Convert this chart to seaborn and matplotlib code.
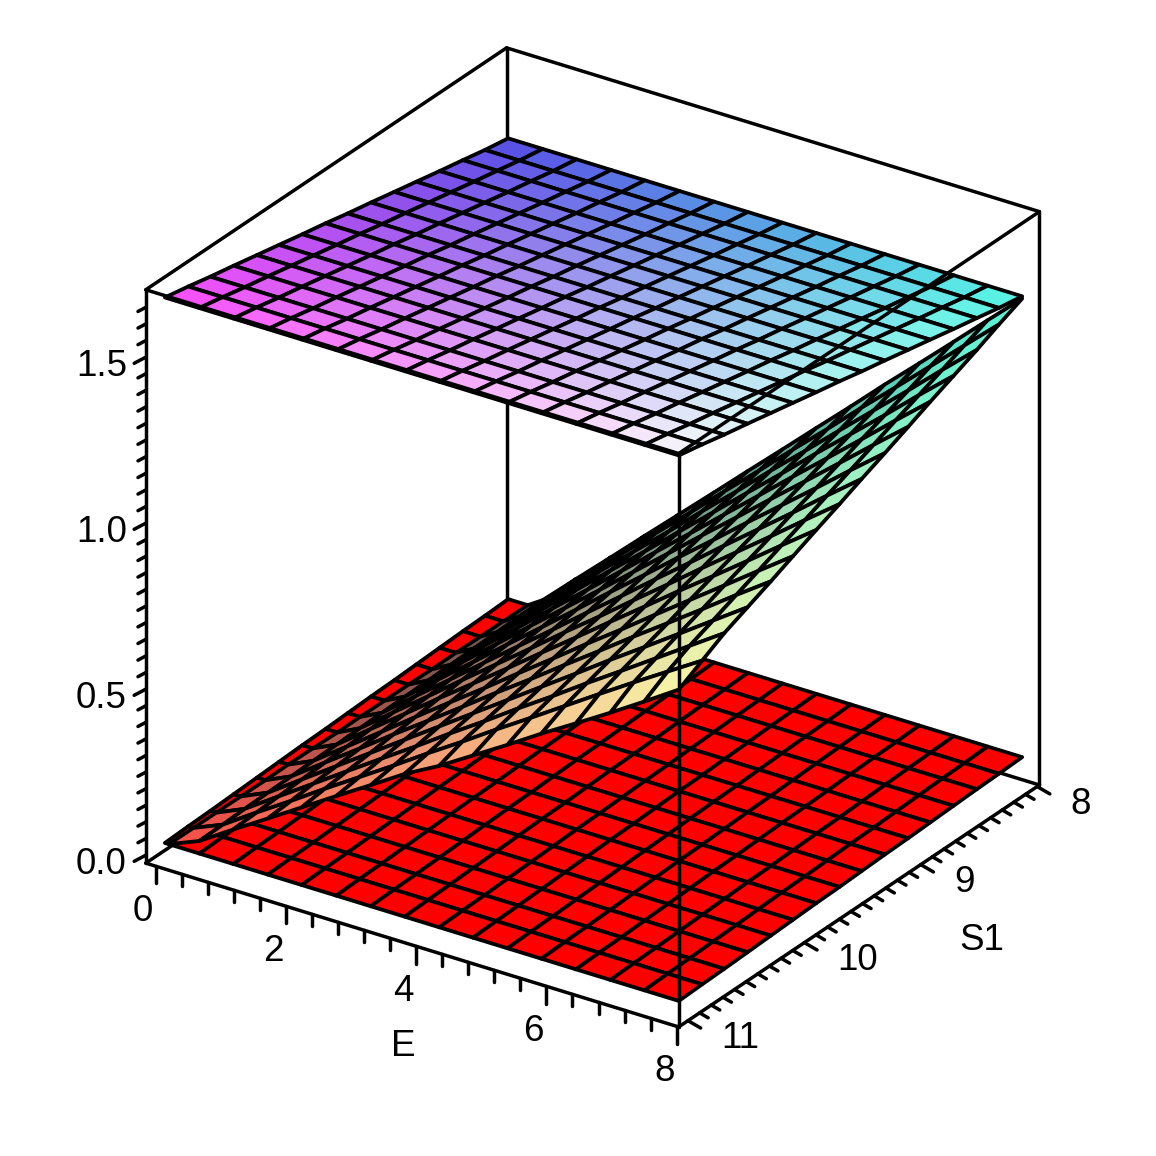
import numpy as np
import seaborn as sns
import matplotlib
matplotlib.use("Agg")
import matplotlib.pyplot as plt
from mpl_toolkits.mplot3d import proj3d

sns.set_style("white")
plt.rcParams['font.family'] = ['Liberation Sans', 'DejaVu Sans']

# grid of the surfaces
e_vals = [0.0, 0.53, 1.05, 1.58, 2.10, 2.63, 3.16, 3.68, 4.21, 4.73, 5.26, 5.78, 6.31, 6.84, 7.36, 7.89]
s_vals = [11.0, 10.8, 10.61, 10.41, 10.21, 10.02, 9.82, 9.62, 9.43, 9.23, 9.03, 8.84, 8.64, 8.44, 8.25, 8.05]

# the two flat sheets only change along S1
bottom_z = [0.027, 0.030, 0.032, 0.035, 0.038, 0.041, 0.044, 0.046, 0.049, 0.052, 0.054, 0.057, 0.060, 0.063, 0.065, 0.068]
top_z = [1.670, 1.656, 1.641, 1.627, 1.612, 1.598, 1.583, 1.569, 1.554, 1.540, 1.525, 1.511, 1.496, 1.482, 1.468, 1.456]

# where the ramp comes out of the red sheet
mid_first_e = [0.06, 0.08, 0.09, 0.11, 0.13, 0.14, 0.16, 0.18, 0.19, 0.21, 0.22, 0.24, 0.25, 0.27, 0.28, 0.30]
mid_z = [
    [0.027, 0.065, 0.131, 0.196, 0.261, 0.327, 0.392, 0.457, 0.513, 0.576, 0.640, 0.705, 0.768, 0.832, 0.897, 0.965],
    [0.030, 0.067, 0.135, 0.202, 0.270, 0.337, 0.404, 0.472, 0.539, 0.607, 0.674, 0.741, 0.809, 0.876, 0.940, 1.005],
    [0.032, 0.070, 0.139, 0.209, 0.278, 0.348, 0.417, 0.487, 0.556, 0.626, 0.695, 0.765, 0.834, 0.904, 0.973, 1.043],
    [0.035, 0.072, 0.143, 0.215, 0.286, 0.358, 0.430, 0.501, 0.573, 0.644, 0.716, 0.788, 0.859, 0.931, 1.002, 1.074],
    [0.038, 0.074, 0.147, 0.221, 0.295, 0.368, 0.442, 0.516, 0.589, 0.663, 0.737, 0.811, 0.884, 0.958, 1.032, 1.105],
    [0.041, 0.076, 0.151, 0.227, 0.303, 0.379, 0.454, 0.530, 0.606, 0.682, 0.757, 0.833, 0.909, 0.985, 1.060, 1.136],
    [0.044, 0.078, 0.156, 0.234, 0.312, 0.389, 0.467, 0.545, 0.623, 0.701, 0.779, 0.857, 0.934, 1.012, 1.090, 1.168],
    [0.046, 0.080, 0.160, 0.240, 0.320, 0.400, 0.480, 0.560, 0.639, 0.719, 0.799, 0.879, 0.959, 1.039, 1.119, 1.199],
    [0.049, 0.082, 0.164, 0.246, 0.328, 0.410, 0.492, 0.574, 0.656, 0.738, 0.820, 0.902, 0.984, 1.066, 1.148, 1.230],
    [0.052, 0.084, 0.168, 0.252, 0.336, 0.420, 0.505, 0.589, 0.673, 0.757, 0.841, 0.925, 1.009, 1.093, 1.177, 1.261],
    [0.054, 0.086, 0.172, 0.259, 0.345, 0.431, 0.517, 0.603, 0.690, 0.776, 0.862, 0.948, 1.034, 1.121, 1.207, 1.293],
    [0.057, 0.088, 0.177, 0.265, 0.353, 0.441, 0.530, 0.618, 0.706, 0.794, 0.883, 0.971, 1.059, 1.148, 1.236, 1.324],
    [0.060, 0.090, 0.181, 0.271, 0.361, 0.452, 0.542, 0.632, 0.723, 0.813, 0.903, 0.994, 1.084, 1.174, 1.265, 1.355],
    [0.063, 0.092, 0.185, 0.277, 0.370, 0.462, 0.554, 0.647, 0.739, 0.832, 0.924, 1.016, 1.109, 1.201, 1.294, 1.386],
    [0.065, 0.095, 0.189, 0.284, 0.378, 0.473, 0.567, 0.662, 0.756, 0.851, 0.945, 1.040, 1.134, 1.229, 1.323, 1.418],
    [0.068, 0.097, 0.193, 0.290, 0.386, 0.483, 0.580, 0.676, 0.773, 0.869, 0.966, 1.063, 1.159, 1.256, 1.352, 1.449],
]

e_major = [0, 2, 4, 6, 8]
s_major = [8, 9, 10, 11]
z_major = [0.0, 0.5, 1.0, 1.5]

# axis ranges of the box
e_lo, e_hi = -0.15, 8.03
s_lo, s_hi = 7.98, 11.08
z_lo, z_hi = -0.024, 1.703

LW = 2.5
FS = 26.5

fig = plt.figure(figsize=(11.56, 11.56), dpi=100)
# axes stay inside the figure, the zoom makes up for the smaller square
ax = fig.add_axes([27.75 / 1156, 53.75 / 1156, 1100 / 1156, 1100 / 1156], projection='3d', computed_zorder=False)
ax.set_proj_type('ortho')
ax.view_init(elev=27, azim=-55.9)
ax.set_xlim(e_lo, e_hi, view_margin=0)
ax.set_ylim(s_hi, s_lo, view_margin=0)
ax.set_zlim(z_lo, z_hi, view_margin=0)
ax.set_box_aspect((1, 1, 1), zoom=0.98367)
ax.set_xticks([])
ax.set_yticks([])
ax.set_zticks([])
ax.set_axis_off()


def xyz_colors(x, y, z):
    # red follows S1, green follows E, blue follows the height
    r = 0.31 + 0.65 * (y - 8.05) / 2.95
    g = 0.32 + 0.67 * x / 7.89
    b = 0.28 + 0.42 * z
    return np.clip(np.dstack([r, g, b]), 0, 1)


X, Y = np.meshgrid(e_vals, s_vals)
Z_bottom = np.tile(np.array(bottom_z)[:, None], (1, len(e_vals)))
Z_top = np.tile(np.array(top_z)[:, None], (1, len(e_vals)))
X_mid = X.copy()
X_mid[:, 0] = mid_first_e
Z_mid = np.array(mid_z)

surf_kw = dict(rstride=1, cstride=1, edgecolor='black', linewidth=2.7, shade=False)
ax.plot_surface(X, Y, Z_bottom, color='#ff0000', zorder=2, **surf_kw)
ax.plot_surface(X_mid, Y, Z_mid, facecolors=xyz_colors(X_mid, Y, Z_mid), zorder=3, **surf_kw)
ax.plot_surface(X, Y, Z_top, facecolors=xyz_colors(X, Y, Z_top), zorder=4, **surf_kw)


def edge(p, q, zorder):
    ax.plot([p[0], q[0]], [p[1], q[1]], [p[2], q[2]], color='black', lw=LW, zorder=zorder,
            solid_capstyle='round')


def label(x, y, z, s, ha='center'):
    # project once, so the text sits at its real place on the figure
    px, py, _ = proj3d.proj_transform(x, y, z, ax.get_proj())
    ax.text2D(px, py, s, transform=ax.transData, fontsize=FS, ha=ha, va='center', color='black')


# box: edges behind the surfaces first, then the front ones
edge((e_lo, s_lo, z_lo), (e_lo, s_hi, z_lo), 1)
edge((e_lo, s_lo, z_lo), (e_hi, s_lo, z_lo), 1)
edge((e_lo, s_lo, z_lo), (e_lo, s_lo, z_hi), 1)
for p, q in [((e_lo, s_lo, z_hi), (e_hi, s_lo, z_hi)),
             ((e_lo, s_lo, z_hi), (e_lo, s_hi, z_hi)),
             ((e_lo, s_hi, z_hi), (e_hi, s_hi, z_hi)),
             ((e_hi, s_lo, z_hi), (e_hi, s_hi, z_hi)),
             ((e_lo, s_hi, z_lo), (e_lo, s_hi, z_hi)),
             ((e_hi, s_lo, z_lo), (e_hi, s_lo, z_hi)),
             ((e_hi, s_hi, z_lo), (e_hi, s_hi, z_hi)),
             ((e_lo, s_hi, z_lo), (e_hi, s_hi, z_lo)),
             ((e_hi, s_lo, z_lo), (e_hi, s_hi, z_lo))]:
    edge(p, q, 6)

# ticks
for t in np.arange(0, 8.01, 0.4):
    major = min(abs(t - m) for m in e_major) < 1e-6
    edge((t, s_hi, z_lo), (t, s_hi, z_lo - (0.052 if major else 0.036)), 5)
for t in np.arange(8, 11.01, 0.1):
    major = min(abs(t - m) for m in s_major) < 1e-6
    k = 1.0 if major else 0.67
    edge((e_hi, t, z_lo), (e_hi + 0.195 * k, t, z_lo - 0.0103 * k), 5)
for t in np.arange(0, 1.66, 0.05):
    major = min(abs(t - m) for m in z_major) < 1e-6
    k = 1.0 if major else 0.67
    edge((e_lo, s_hi, t), (e_lo, s_hi + 0.1 * k, t + 0.005 * k), 5)

# tick labels and axis titles
for t in e_major:
    label(t, s_hi + 0.108, z_lo - 0.110, str(t))
for t in s_major:
    label(e_hi + 0.51, t, z_lo - 0.022, str(t), ha='left')
for t in z_major:
    label(e_lo, s_hi + 0.381, t + 0.061, f'{t:.1f}')
label(4, s_hi + 0.108, z_lo - 0.276, 'E')
label(e_hi + 0.64, 8.83, z_lo - 0.229, 'S1')

fig.savefig('out.png', dpi=100, facecolor='white')
